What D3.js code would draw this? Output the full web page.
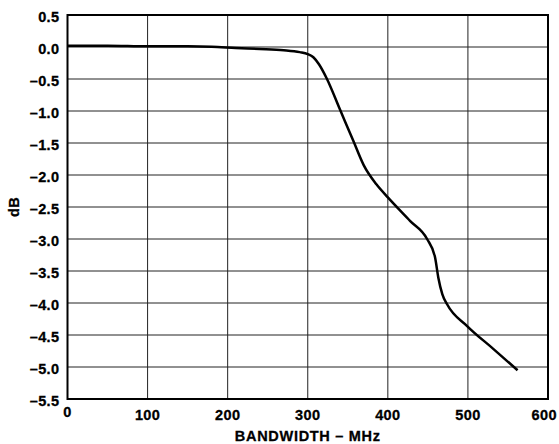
<!DOCTYPE html>
<html>
<head>
<meta charset="utf-8">
<script src="https://cdn.jsdelivr.net/npm/d3@7"></script>
<style>
  body { margin: 0; background: #fff; }
  text { font-family: "Liberation Sans", Arial, sans-serif; font-weight: bold; fill: #000; stroke: #000; stroke-width: 0.3px; }
</style>
</head>
<body>
<script>
// frequency response
var freqMHz = [0, 50, 100, 150, 180, 210, 240, 270, 290, 300, 307, 314, 324, 340, 357, 370, 386, 400, 428, 449, 459, 463, 468, 474, 499, 532, 562]
var gainDb = [0.02, 0.02, 0.01, 0.01, 0.005, -0.015, -0.03, -0.05, -0.08, -0.11, -0.16, -0.27, -0.5, -0.97, -1.47, -1.85, -2.15, -2.35, -2.72, -3.0, -3.29, -3.6, -3.86, -4.02, -4.36, -4.72, -5.05]

var xTicks = [0, 100, 200, 300, 400, 500, 600]
var yTicks = [0.5, 0, -0.5, -1, -1.5, -2, -2.5, -3, -3.5, -4, -4.5, -5, -5.5]

var margin = {top: 15, right: 11, bottom: 45, left: 67.5}
var width = 559 - margin.left - margin.right
var height = 444 - margin.top - margin.bottom

var x = d3.scaleLinear().domain([0, 600]).range([0, width])
var y = d3.scaleLinear().domain([-5.5, 0.5]).range([height, 0])

var svg = d3.select('body').append('svg')
  .attr('width', 559)
  .attr('height', 444)
  .append('g')
  .attr('transform', `translate(${margin.left}, ${margin.top})`)

// grid
svg.selectAll('.hgrid')
  .data(yTicks)
  .enter().append('line')
  .attr('x1', 0).attr('x2', width)
  .attr('y1', d => y(d)).attr('y2', d => y(d))
  .attr('stroke', '#222').attr('stroke-width', 1)
svg.selectAll('.vgrid')
  .data(xTicks)
  .enter().append('line')
  .attr('x1', d => x(d)).attr('x2', d => x(d))
  .attr('y1', 0).attr('y2', height)
  .attr('stroke', '#222').attr('stroke-width', 1)

// frame
svg.append('rect')
  .attr('width', width).attr('height', height)
  .attr('fill', 'none').attr('stroke', '#000').attr('stroke-width', 2)

// tick labels
svg.selectAll('.ylab')
  .data(yTicks)
  .enter().append('text')
  .attr('x', -8)
  .attr('y', d => y(d) + 2)
  .attr('dy', '0.36em')
  .attr('text-anchor', 'end')
  .style('font-size', '14.5px')
  .style('letter-spacing', '0.4px')
  .text(d => (d < 0 ? '\u2013' : '') + Math.abs(d).toFixed(1))

svg.selectAll('.xlab')
  .data(xTicks)
  .enter().append('text')
  .attr('x', d => d === 600 ? x(d) + 9 : x(d))
  .attr('y', d => height + (d === 0 ? 18 : 21))
  .attr('text-anchor', d => d === 600 ? 'end' : 'middle')
  .style('font-size', '14.5px')
  .style('letter-spacing', '0.4px')
  .text(d => d)

// axis titles
svg.append('text')
  .attr('x', width / 2)
  .attr('y', height + 42)
  .attr('text-anchor', 'middle')
  .style('font-size', '14.5px')
  .style('letter-spacing', '0.7px')
  .text('BANDWIDTH \u2013 MHz')

svg.append('text')
  .attr('transform', `translate(${-48.5}, ${height / 2}) rotate(-90)`)
  .attr('text-anchor', 'middle')
  .style('font-size', '14.5px')
  .style('letter-spacing', '0.4px')
  .text('dB')

// response curve
var data = freqMHz.map((f, i) => ({f: f, g: gainDb[i]}))
var line = d3.line()
  .x(d => x(d.f))
  .y(d => y(d.g))
  .curve(d3.curveMonotoneX)

svg.append('path')
  .datum(data)
  .attr('d', line)
  .attr('fill', 'none')
  .attr('stroke', '#000')
  .attr('stroke-width', 2.5)
  .attr('stroke-linejoin', 'round')
</script>
</body>
</html>
